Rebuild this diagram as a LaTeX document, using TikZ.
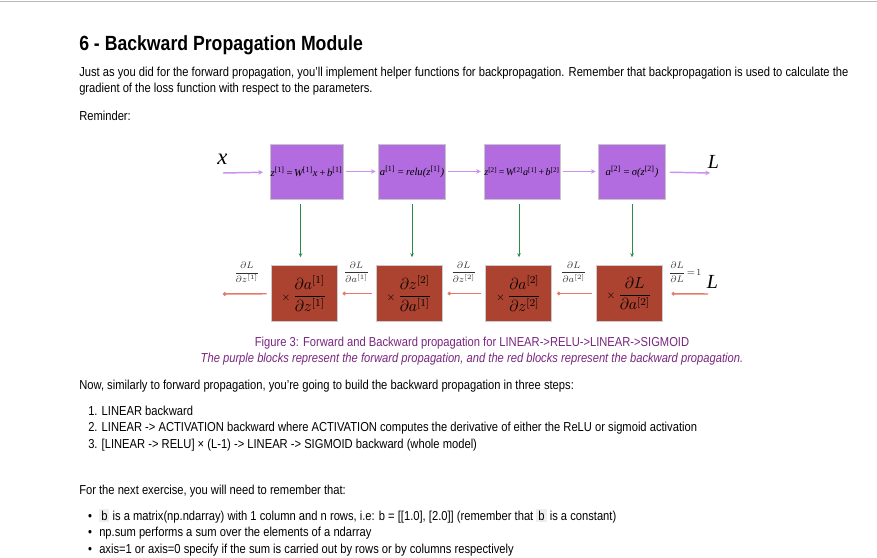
\documentclass[tikz,border=0pt]{standalone}
\usepackage{fontspec}
\setmainfont{Liberation Sans}[FakeStretch=0.86]
\newfontfamily\timesfont{Liberation Serif}
\usetikzlibrary{arrows.meta}
\definecolor{fwdpurple}{RGB}{179,107,224}
\definecolor{bwdred}{RGB}{172,66,48}
\definecolor{fwdline}{RGB}{203,145,236}
\definecolor{bwdline}{RGB}{228,122,104}
\definecolor{updgreen}{RGB}{46,140,72}
\definecolor{captpurple}{RGB}{122,38,128}
\definecolor{codegrey}{RGB}{238,238,238}
\setlength{\fboxsep}{1.5pt}
\newcommand{\codeb}{\colorbox{codegrey}{b}}
\newcommand{\bodysize}{\fontsize{9.75}{12}\selectfont}
\newcommand{\tsup}[1]{\textsuperscript{\upshape#1}}
\begin{document}
\begin{tikzpicture}
[x=0.75pt,y=-0.75pt,
  fwdbox/.style={draw=gray!45,fill=fwdpurple,minimum width=50.25pt,minimum height=41.25pt,inner sep=0.5pt,%
    font=\timesfont\itshape\fontsize{8}{10}\selectfont},
  bwdbox/.style={draw=gray!40,fill=bwdred,minimum width=49.5pt,minimum height=42pt,inner sep=1pt,font=\large},
  fwdarrow/.style={-{Stealth[length=3.5pt,width=3.5pt]},fwdline,line width=1.1pt,shorten <=2pt,shorten >=2pt},
  bwdarrow/.style={-{Circle[length=2.6pt]},bwdline,line width=1.1pt,shorten <=3pt,shorten >=4pt},
  updarrow/.style={-{Stealth[length=3pt,width=2.6pt]},updgreen,line width=0.7pt,shorten <=3.75pt,shorten >=6pt},
  bodytext/.style={anchor=base west,inner sep=0pt,font=\bodysize},
  bigletter/.style={font=\timesfont\itshape\fontsize{15}{16}\selectfont},
  gradlabel/.style={inner sep=0pt,text=black!80,font=\scriptsize,above=8pt}]
\useasboundingbox (0,0) rectangle (877,557);
\fill[white] (0,0) rectangle (877,557);
\draw[gray!55] (0,1) -- (877,1);
% heading and text
\node (title) at (79,50) [bodytext,font=\bfseries\fontsize{15.4}{18}\selectfont] {6 - Backward Propagation Module};
\node (intro1) at (79,76) [bodytext] {Just as you did for the forward propagation, you'll implement helper functions for backpropagation. Remember that backpropagation is used to calculate the};
\node (intro2) at (79,92) [bodytext] {gradient of the loss function with respect to the parameters.};
\node (reminder) at (79,120) [bodytext] {Reminder:};
% forward blocks
\node (p1) at (306.5,171.5) [fwdbox] {z\tsup{[1]}\kern0.8pt=\kern0.8pt W\tsup{[1]}x\kern0.8pt+\kern0.8pt b\tsup{[1]}};
\node (p2) at (412,171.5) [fwdbox] {a\tsup{[1]}\,=\,relu(z\tsup{[1]})};
\node (p3) at (522,171.5) [fwdbox,font=\timesfont\itshape\fontsize{7.6}{9}\selectfont] {z\tsup{[2]}\kern0.6pt=\kern0.6pt W\tsup{[2]}a\tsup{[1]}\kern0.6pt+\kern0.6pt b\tsup{[2]}};
\node (p4) at (632,171.5) [fwdbox] {a\tsup{[2]}\,=\,σ(z\tsup{[2]})};
\coordinate (xin) at (223,173);
\coordinate (lossout) at (710,173);
\node (xlabel) at (222.5,159) [bigletter,font=\timesfont\itshape\fontsize{17}{18}\selectfont] {x};
\node (lossf) at (713.5,162) [bigletter] {L};
% backward blocks
\node (b1) at (304,293.5) [bwdbox] {{\footnotesize$\times$}\,$\displaystyle\frac{\partial a^{[1]}}{\partial z^{[1]}}$};
\node (b2) at (409,293.5) [bwdbox] {{\footnotesize$\times$}\,$\displaystyle\frac{\partial z^{[2]}}{\partial a^{[1]}}$};
\node (b3) at (518.5,293.5) [bwdbox] {{\footnotesize$\times$}\,$\displaystyle\frac{\partial a^{[2]}}{\partial z^{[2]}}$};
\node (b4) at (629,293.5) [bwdbox] {{\footnotesize$\times$}\,$\displaystyle\frac{\partial L}{\partial a^{[2]}}$};
\coordinate (lossin) at (708,294);
\coordinate (dzout) at (223,294);
\node (lossb) at (712.5,281.5) [bigletter] {L};
% forward edges
\path
(xin) edge[fwdarrow,shorten <=0pt,shorten >=5pt] (p1)
(p1) edge[fwdarrow] (p2)
(p2) edge[fwdarrow] (p3)
(p3) edge[fwdarrow] (p4)
(p4) edge[fwdarrow,shorten >=0pt,shorten <=3pt] (lossout);
% cached values down
\draw[updarrow] ([xshift=-4.5pt]p1.south) -- ([xshift=-4.5pt]p1.south |- b1.north);
\draw[updarrow] (p2.south) -- (p2.south |- b2.north);
\draw[updarrow] ([xshift=-2.25pt]p3.south) -- ([xshift=-2.25pt]p3.south |- b3.north);
\draw[updarrow] (p4.south) -- (p4.south |- b4.north);
% backward edges
\path
(lossin) edge[bwdarrow,shorten <=0pt,shorten >=7pt] node[gradlabel] {$\displaystyle\frac{\partial L}{\partial L}\!=\!1$} (b4)
(b4) edge[bwdarrow] node[gradlabel] {$\displaystyle\frac{\partial L}{\partial a^{[2]}}$} (b3)
(b3) edge[bwdarrow] node[gradlabel] {$\displaystyle\frac{\partial L}{\partial z^{[2]}}$} (b2)
(b2) edge[bwdarrow] node[gradlabel] {$\displaystyle\frac{\partial L}{\partial a^{[1]}}$} (b1)
(b1) edge[bwdarrow,shorten >=0pt] node[gradlabel] {$\displaystyle\frac{\partial L}{\partial z^{[1]}}$} (dzout);
% caption
\node (caption1) at (472,346) [anchor=base,inner sep=0pt,text=captpurple,font=\bodysize] {Figure 3: Forward and Backward propagation for LINEAR->RELU->LINEAR->SIGMOID};
\node (caption2) at (472,362) [anchor=base,inner sep=0pt,text=captpurple,font=\bodysize\itshape] {The purple blocks represent the forward propagation, and the red blocks represent the backward propagation.};
% steps
\node (steps) at (79,389) [bodytext] {Now, similarly to forward propagation, you're going to build the backward propagation in three steps:};
\node (step1) at (88,415) [bodytext] {1. LINEAR backward};
\node (step2) at (88,431) [bodytext] {2. LINEAR -> ACTIVATION backward where ACTIVATION computes the derivative of either the ReLU or sigmoid activation};
\node (step3) at (88,448) [bodytext] {3. [LINEAR -> RELU] × (L-1) -> LINEAR -> SIGMOID backward (whole model)};
% notes
\node (notes) at (79,494) [bodytext] {For the next exercise, you will need to remember that:};
\node (dot1) at (90,520) [anchor=base,inner sep=0pt,font=\bodysize] {•};
\node (note1) at (99,520) [bodytext] {\codeb{} is a matrix(np.ndarray) with 1 column and n rows, i.e: b = [[1.0], [2.0]] (remember that \codeb{} is a constant)};
\node (dot2) at (90,536) [anchor=base,inner sep=0pt,font=\bodysize] {•};
\node (note2) at (99,536) [bodytext] {np.sum performs a sum over the elements of a ndarray};
\node (dot3) at (90,553) [anchor=base,inner sep=0pt,font=\bodysize] {•};
\node (note3) at (99,553) [bodytext] {axis=1 or axis=0 specify if the sum is carried out by rows or by columns respectively};
\end{tikzpicture}
\end{document}
